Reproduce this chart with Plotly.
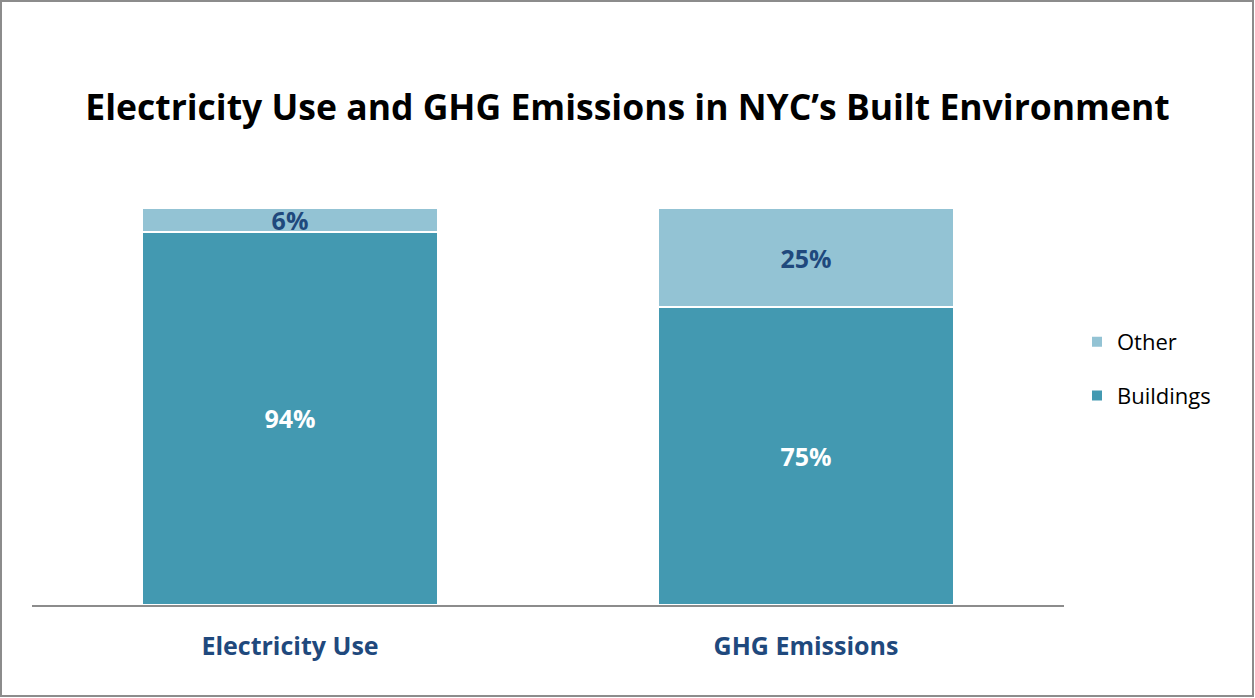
import plotly.graph_objects as go

categories = ["Electricity Use", "GHG Emissions"]
buildings = [94, 75]
other = [6, 25]
series_names = ["Buildings", "Other"]
title_text = "Electricity Use and GHG Emissions in NYC’s Built Environment"

W, H = 1255, 698
L, R, T, B = 32, 191, 208, 93
pw, ph = W - L - R, H - T - B

c_build = "#4399B1"
c_other = "#93C3D4"
dark_blue = "#1F497D"
font = "Open Sans"

fig = go.Figure()
fig.add_trace(go.Bar(
    x=categories, y=buildings, name=series_names[0], legendgroup="b",
    legendrank=2,
    marker=dict(color=c_build, line=dict(color="white", width=2)),
    text=[f"{v}%" for v in buildings], textposition="inside",
    insidetextanchor="middle",
    textfont=dict(family=font, size=29, color="white", weight="bold"),
    hoverinfo="skip",
))
fig.add_trace(go.Bar(
    x=categories, y=other, name=series_names[1], legendgroup="o",
    legendrank=1,
    marker=dict(color=c_other, line=dict(color="white", width=2)),
    text=[f"{v}%" for v in other], textposition="inside",
    insidetextanchor="middle",
    textfont=dict(family=font, size=25, color=dark_blue, weight="bold"),
    hoverinfo="skip",
))

def px_x(x):
    return (x - L) / pw

def px_y(y):
    return (H - B - y) / ph

fig.update_layout(
    width=W, height=H,
    margin=dict(l=L, r=R, t=T, b=B, autoexpand=False),
    paper_bgcolor="white", plot_bgcolor="white",
    barmode="stack", bargap=0.425,
    uniformtext=dict(minsize=25, mode="show"),
    title=dict(text=title_text, x=0.5, xref="container", xanchor="center",
               y=1 - 108 / H, yanchor="middle",
               font=dict(family=font, size=35.5, color="black", weight="bold")),
    legend=dict(x=px_x(1077), xanchor="left", y=px_y(369), yanchor="middle",
                traceorder="grouped",
                font=dict(family=font, size=22, color="black"),
                itemsizing="constant", tracegroupgap=22, itemwidth=30,
                bgcolor="rgba(0,0,0,0)"),
    xaxis=dict(showgrid=False, zeroline=False, showline=True, linecolor="#8C8C8C",
               linewidth=2, ticks="", ticklabelstandoff=18,
               tickfont=dict(family=font, size=25, color=dark_blue, weight="bold")),
    yaxis=dict(range=[0, 100], visible=False, showgrid=False, zeroline=False),
    shapes=[dict(type="rect", xref="paper", yref="paper",
                 x0=px_x(1), x1=px_x(W - 2), y0=px_y(H - 2), y1=px_y(1),
                 line=dict(color="#8C8C8C", width=2), fillcolor="rgba(0,0,0,0)",
                 layer="below")],
    showlegend=True,
)

fig.write_html("out.html", config={"displayModeBar": False},
               post_script="document.body.style.margin='0';")
